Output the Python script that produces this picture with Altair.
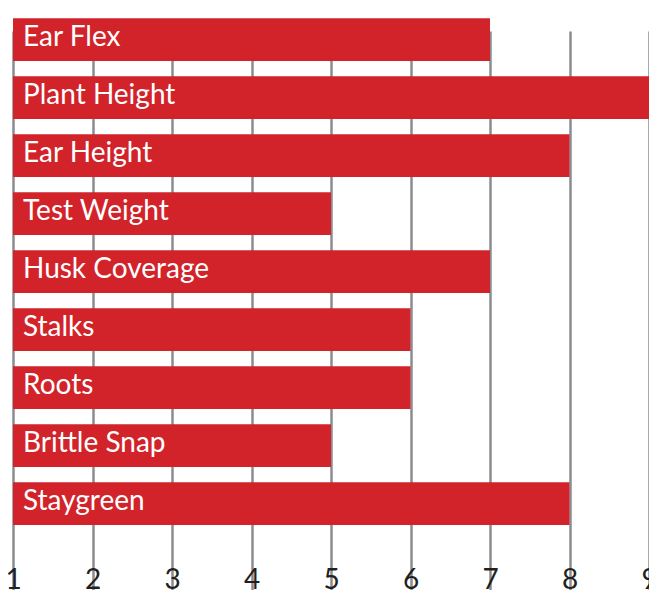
import altair as alt
import pandas as pd

# Data
traits = ["", "Ear Flex", "Plant Height", "Ear Height", "Test Weight",
          "Husk Coverage", "Stalks", "Roots", "Brittle Snap", "Staygreen"]
scores = [9.1, 7, 9, 8, 5, 7, 6, 6, 5, 8]
tick_values = [1, 2, 3, 4, 5, 6, 7, 8, 9]
scale_start = 1

df = pd.DataFrame({"trait": traits, "score": scores, "base": [scale_start] * len(traits)})

RED = "#d2232a"
GRID = "#8b8c90"

y_enc = alt.Y(
    "trait:N",
    sort=traits,
    scale=alt.Scale(domain=traits, range=[-47.7, 517], paddingInner=0.264, paddingOuter=0),
    axis=None,
)

x_scale = alt.Scale(domain=[1, 9], nice=False, zero=False)

bars = alt.Chart(df).mark_bar(color=RED, clip=False).encode(
    y=y_enc,
    x=alt.X(
        "base:Q",
        scale=x_scale,
        axis=alt.Axis(
            values=tick_values,
            grid=True,
            gridColor=GRID,
            gridWidth=2.5,
            domain=False,
            ticks=False,
            labelFontSize=28,
            labelFont="Lato",
            labelColor="#231f20",
            labelPadding=18,
            labelFlush=False,
            labelOverlap=False,
            format="d",
            title=None,
        ),
    ),
    x2="score:Q",
)

labels = alt.Chart(df).mark_text(
    align="left", baseline="alphabetic", dx=10, dy=6,
    font="Lato", fontSize=28, color="white", clip=False,
).encode(
    y=y_enc,
    x=alt.X("base:Q", scale=x_scale),
    text="trait:N",
)

chart = alt.layer(bars, labels).properties(
    width=636,
    height=540,
    autosize=alt.AutoSizeParams(type="none"),
    padding={"left": 5, "top": 0, "right": 0, "bottom": 42},
).configure_view(stroke=None)

chart.save("out.html", embed_options={"renderer": "svg", "actions": False})
